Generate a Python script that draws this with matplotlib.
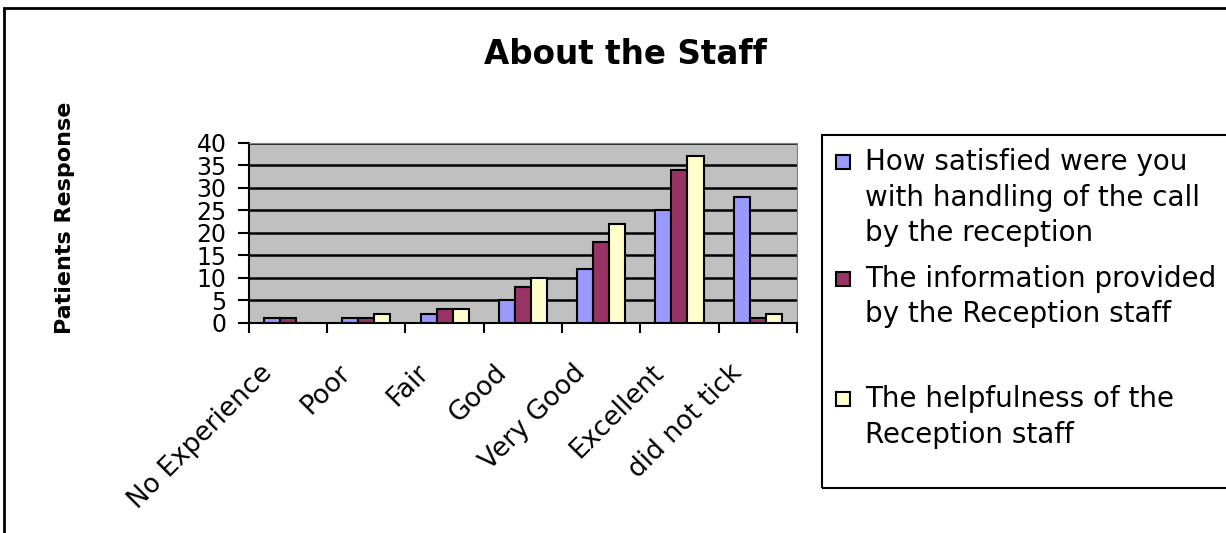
import numpy as np
import matplotlib
matplotlib.use("Agg")
import matplotlib.pyplot as plt
from matplotlib.patches import Rectangle
from matplotlib.transforms import ScaledTranslation

plt.rcParams['font.family'] = ['DejaVu Sans']

# 数据
categories = ['No Experience', 'Poor', 'Fair', 'Good', 'Very Good', 'Excellent', 'did not tick']
series_names = ['How satisfied were you\nwith handling of the call\nby the reception',
                'The information provided\nby the Reception staff',
                'The helpfulness of the\nReception staff']
call_handling = [1, 1, 2, 5, 12, 25, 28]
information = [1, 1, 3, 8, 18, 34, 1]
helpfulness = [0, 2, 3, 10, 22, 37, 2]
colors = ['#9999FF', '#993366', '#FFFFCC']

fig = plt.figure(figsize=(12.26, 5.33), dpi=100)

# 外框
fig.patches.append(Rectangle((0.003, -0.01), 1.2, 0.995, transform=fig.transFigure,
                             fill=False, edgecolor='black', linewidth=2))

ax = fig.add_axes([0.203, 0.394, 0.447, 0.338])
ax.set_facecolor('#C0C0C0')

x = np.arange(len(categories))
w = 0.205
for i, vals in enumerate([call_handling, information, helpfulness]):
    ax.bar(x + (i - 1) * w, vals, width=w, color=colors[i], edgecolor='black',
           linewidth=1.5, zorder=3)

ax.set_xlim(-0.5, len(categories) - 0.5)
ax.set_ylim(0, 40)
ax.set_yticks(range(0, 41, 5))
ax.yaxis.grid(True, color='black', linewidth=1.8, zorder=0)
ax.set_axisbelow(True)

ax.set_xticks(x)
ax.set_xticklabels(categories, rotation=45, ha='right', va='center',
                   rotation_mode='anchor', fontsize=19)
ax.set_xticks(np.arange(-0.5, len(categories), 1), minor=True)
ax.tick_params(axis='x', which='major', length=0, pad=33)
ax.tick_params(axis='x', which='minor', length=7, width=1.5, direction='out')
ax.tick_params(axis='y', length=8, width=1.5, labelsize=17, pad=8)
for lab in ax.get_xticklabels():
    lab.set_transform(lab.get_transform() + ScaledTranslation(-0.2, 0, fig.dpi_scale_trans))

for s in ['left', 'bottom']:
    ax.spines[s].set_linewidth(1.5)
for s in ['top', 'right']:
    ax.spines[s].set_color('#808080')

fig.text(0.51, 0.897, 'About the Staff', ha='center', va='center', fontsize=23.5, fontweight='bold')
fig.text(0.053, 0.591, 'Patients Response', ha='center', va='center', rotation=90,
         fontsize=16, fontweight='bold')

# 图例
fig.patches.append(Rectangle((0.6705, 0.0844), 0.35, 0.6626, transform=fig.transFigure,
                             fill=False, edgecolor='black', linewidth=1.5))
leg_y = [0.696, 0.477, 0.251]
line_step = 35.5 / 533
for i, name in enumerate(series_names):
    fig.patches.append(Rectangle((0.682, leg_y[i] - 0.013), 0.0115, 0.026,
                                 transform=fig.transFigure, facecolor=colors[i],
                                 edgecolor='black', linewidth=1.5))
    for j, line in enumerate(name.split('\n')):
        fig.text(0.7055, leg_y[i] - j * line_step, line, ha='left', va='center', fontsize=20)

fig.savefig('out.png', dpi=100)
